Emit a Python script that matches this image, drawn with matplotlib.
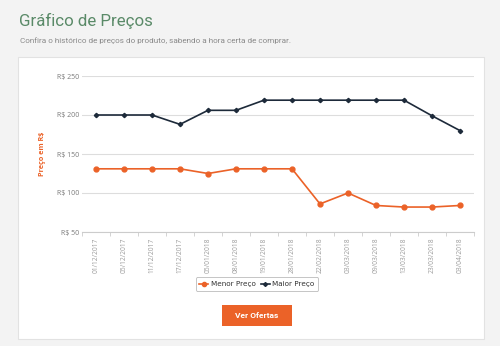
import matplotlib.pyplot as plt
from matplotlib.patches import Rectangle
from matplotlib.lines import Line2D

# dados do gráfico
datas = ["01/12/2017", "05/12/2017", "11/12/2017", "17/12/2017", "05/01/2018", "08/01/2018",
         "19/01/2018", "28/01/2018", "22/02/2018", "03/03/2018", "09/03/2018", "13/03/2018",
         "23/03/2018", "03/04/2018"]
menor_preco = [131, 131, 131, 131, 125, 131, 131, 131, 86, 100, 84, 82, 82, 84]
maior_preco = [200, 200, 200, 188, 206, 206, 219, 219, 219, 219, 219, 219, 199, 180]
y_ticks = [50, 100, 150, 200, 250]

laranja = "#eb6228"
azul = "#1d2a3a"
cinza = "#7a7a7a"

fig = plt.figure(figsize=(5.0, 3.46), dpi=100)
fig.patch.set_facecolor("#f3f3f3")

# painel branco
fig.patches.append(Rectangle((18 / 500, 1 - 339 / 346), 466 / 500, 282 / 346,
                             transform=fig.transFigure, facecolor="white",
                             edgecolor="#e2e2e2", linewidth=0.8, zorder=-10))

fig.text(19 / 500, 1 - 21 / 346, "Gráfico de Preços", fontsize=12.2, color="#5a8a68",
         family="Roboto", va="center", ha="left")
fig.text(20 / 500, 1 - 41 / 346, "Confira o histórico de preços do produto, sabendo a hora certa de comprar.",
         fontsize=5.9, color="#8a8a8a", family="Roboto", va="center", ha="left")

ax = fig.add_axes([82 / 500, 1 - 232 / 346, 392 / 500, 156 / 346])
ax.set_facecolor("white")
x = list(range(len(datas)))
ax.plot(x, menor_preco, color=laranja, marker="o", markersize=3.5, linewidth=1.2, label="Menor Preço")
ax.plot(x, maior_preco, color=azul, marker="D", markersize=2.2, linewidth=1.2, label="Maior Preço")

ax.set_xlim(-0.5, 13.5)
ax.set_ylim(50, 250)
ax.set_yticks(y_ticks)
ax.set_yticklabels(["R$ %d" % v for v in y_ticks], fontsize=5, color=cinza, family="Open Sans")
ax.set_xticks(x)
ax.set_xticklabels(datas, rotation=90, fontsize=4.8, color="#9a9a9a", family="Open Sans")
ax.set_xticks([i - 0.5 for i in range(len(datas) + 1)], minor=True)
ax.tick_params(axis="x", which="major", length=0, pad=4)
ax.tick_params(axis="x", which="minor", length=3, color="#cccccc", width=0.6)
ax.tick_params(axis="y", length=0, pad=2)
ax.grid(axis="y", color="#dddddd", linewidth=0.8)
ax.set_axisbelow(True)
for s in ["top", "right", "left"]:
    ax.spines[s].set_visible(False)
ax.spines["bottom"].set_color("#cccccc")
ax.spines["bottom"].set_linewidth(0.8)
ax.set_ylabel("Preço em R$", fontsize=5.2, color=laranja, fontweight="bold", family="Open Sans", labelpad=8)

handles = [Line2D([], [], color=laranja, marker="o", markersize=3, linewidth=1.2),
           Line2D([], [], color=azul, marker="D", markersize=2, linewidth=1.2)]
leg = fig.legend(handles, ["Menor Preço", "Maior Preço"], loc="center", ncol=2,
                 bbox_to_anchor=(257 / 500, 1 - 284 / 346), fontsize=5.2, frameon=True,
                 handlelength=1.2, handletextpad=0.4, columnspacing=0.7, borderpad=0.5)
leg.get_frame().set_edgecolor("#aaaaaa")
leg.get_frame().set_linewidth(0.6)
for t in leg.get_texts():
    t.set_color("#333333")

# botão
fig.patches.append(Rectangle((222 / 500, 1 - 326 / 346), 70 / 500, 21 / 346,
                             transform=fig.transFigure, facecolor=laranja, edgecolor="none"))
fig.text(257 / 500, 1 - 315.5 / 346, "Ver Ofertas", fontsize=6, color="white", fontweight="bold",
         family="Roboto", ha="center", va="center")

fig.savefig("out.png", dpi=100, facecolor=fig.get_facecolor())
